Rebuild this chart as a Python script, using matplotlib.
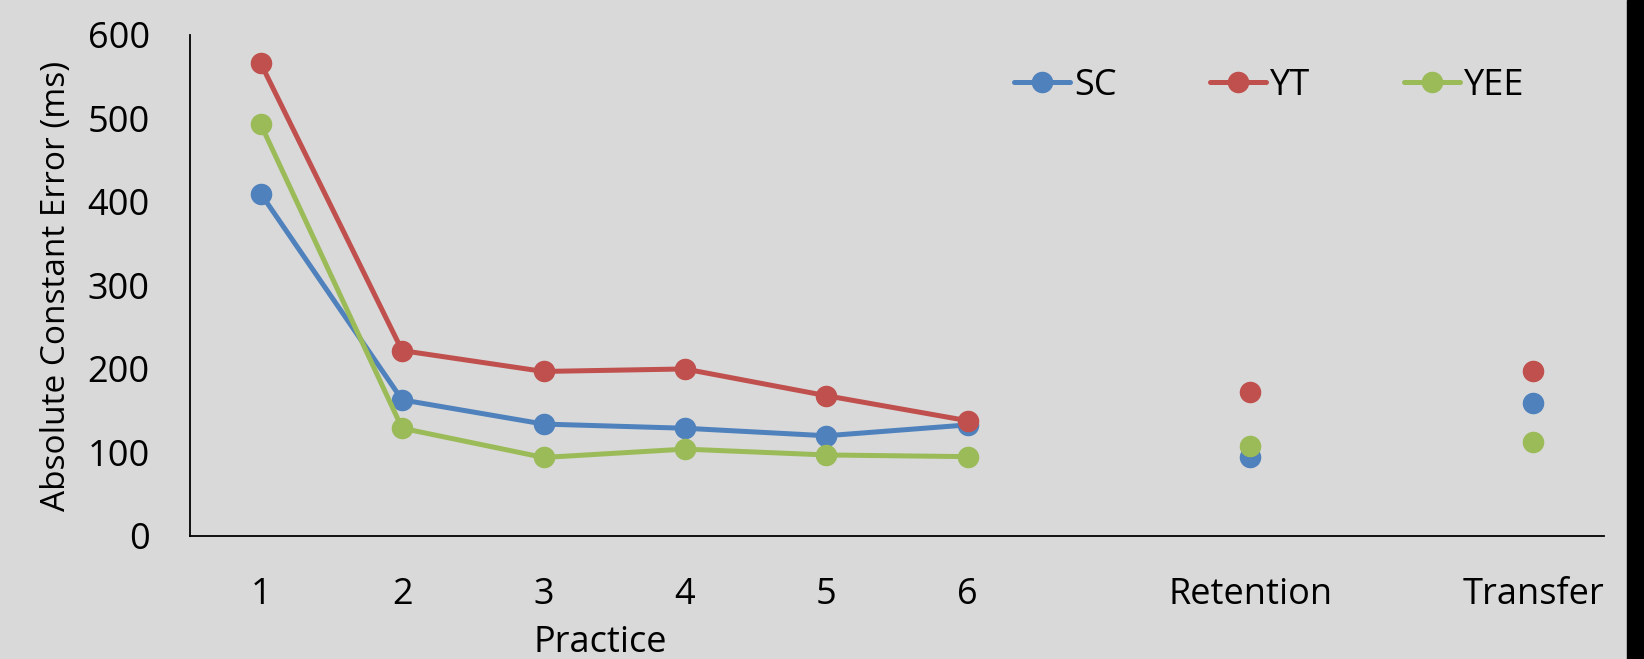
import matplotlib.pyplot as plt
from matplotlib.patches import Rectangle

plt.rcParams['font.family'] = ['Open Sans', 'DejaVu Sans']

# data
practice = ['1', '2', '3', '4', '5', '6']
tests = ['Retention', 'Transfer']
sc_practice = [410, 163, 134, 129, 120, 133]
yt_practice = [566, 222, 197, 200, 168, 138]
yee_practice = [493, 129, 94, 104, 97, 95]
sc_tests = [95, 159]
yt_tests = [172, 198]
yee_tests = [108, 113]

colors = {'SC': '#4f81bd', 'YT': '#c0504d', 'YEE': '#9bbb59'}
bg = '#d9d9d9'

fig = plt.figure(figsize=(16.44, 6.59), dpi=100, facecolor=bg)
ax = fig.add_axes([0.1156, 0.1867, 0.86, 0.7603], facecolor=bg)

px = list(range(len(practice)))
tx = [len(practice) + 1, len(practice) + 3]

series = [('SC', sc_practice, sc_tests), ('YT', yt_practice, yt_tests), ('YEE', yee_practice, yee_tests)]
for name, pv, tv in series:
    ax.plot(px, pv, color=colors[name], lw=3.6, marker='o', ms=14.5, label=name, solid_capstyle='round')
    ax.plot(tx, tv, color=colors[name], ls='none', marker='o', ms=14.5)

ax.set_xlim(-0.5, tx[-1] + 0.5)
ax.set_ylim(0, 600)
ax.set_yticks(range(0, 601, 100))
ax.set_xticks(px + tx)
ax.set_xticklabels(practice + tests)
ax.tick_params(axis='both', length=0, labelsize=26)
ax.tick_params(axis='y', pad=29)
ax.tick_params(axis='x', pad=29.5)

for s in ['top', 'right']:
    ax.spines[s].set_visible(False)
for s in ['left', 'bottom']:
    ax.spines[s].set_color('black')
    ax.spines[s].set_linewidth(1.3)

ax.set_ylabel('Absolute Constant Error (ms)', fontsize=24)
ax.yaxis.set_label_coords(-0.0827, 0.5)
ax.set_xlabel('Practice', fontsize=26)
ax.xaxis.set_label_coords(0.29, -0.178)

ax.legend(loc='upper left', bbox_to_anchor=(0.560, 0.999), ncol=3, frameon=False, fontsize=26,
          handlelength=1.55, handletextpad=0.1, columnspacing=2.6)

# black strip at right edge
fig.patches.append(Rectangle((0.9897, 0), 0.0103, 1, transform=fig.transFigure, color='black', zorder=10))

fig.savefig('out.png', dpi=100, facecolor=bg)
